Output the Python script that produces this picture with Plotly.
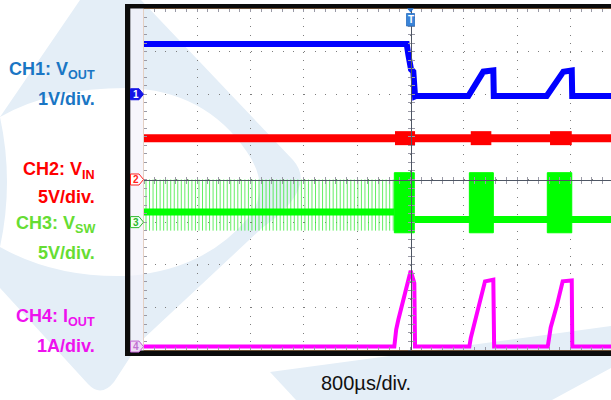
import plotly.graph_objects as go

# ---------------- values ----------------
TIME_DIV_US = 800
TIME_RANGE_US = [-4000, 3009]          # visible part of the 10-div screen
N_VDIV = 8

# CH1: VOUT, 1 V/div, ground 6 div above bottom
CH1_VDIV = 1.0
CH1_GND_DIV = 6.0
CH1_TIME_US = [-4000, -57, -33, 8, 42, 68, 83, 868, 1093, 1243, 1250, 2044, 2294, 2420, 2427, 3009]
CH1_VOUT_V = [1.18, 1.18, 0.93, 0.58, 0.53, -0.05, -0.04, -0.04, 0.53, 0.56, -0.04, -0.04, 0.53, 0.56, -0.04, -0.04]

# CH2: VIN, 5 V/div, ground at centre
CH2_VDIV = 5.0
CH2_GND_DIV = 4.0
CH2_TIME_US = [-4000, 3009]
CH2_VIN_V = [4.85, 4.85]
CH2_BURST_START_US = [-233, 904, 2094]
CH2_BURST_END_US = [68, 1213, 2420]

# CH3: VSW, 5 V/div, ground 3 div above bottom
CH3_VDIV = 5.0
CH3_GND_DIV = 3.0
CH3_BASE_TIME_US = [-4000, -243, None, 57, 3009]
CH3_BASE_V = [1.2, 1.2, None, 0.3, 0.3]
CH3_SPIKE_TIME_US = [
    -3970, -3917, -3864, -3811, -3758, -3705, -3652, -3599, -3546, -3493,
    -3440, -3387, -3334, -3281, -3228, -3175, -3122, -3069, -3016, -2963,
    -2910, -2857, -2804, -2751, -2698, -2645, -2592, -2539, -2486, -2433,
    -2380, -2327, -2274, -2221, -2168, -2115, -2062, -2009, -1956, -1903,
    -1850, -1797, -1744, -1691, -1638, -1585, -1532, -1479, -1426, -1373,
    -1320, -1267, -1214, -1161, -1108, -1055, -1002, -949, -896, -843,
    -790, -737, -684, -631, -578, -525, -472, -419, -366, -313, -260]
CH3_SPIKE_HIGH_V = 5.0
CH3_SPIKE_LOW_V = -1.0
CH3_BURST_START_US = [-243, 883, 2053]
CH3_BURST_END_US = [57, 1243, 2420]
CH3_BURST_HIGH_V = 5.8
CH3_BURST_LOW_V = -1.25

# CH4: IOUT, 1 A/div, ground just above bottom
CH4_ADIV = 1.0
CH4_GND_DIV = 0.08
CH4_TIME_US = [-4000, -243, -215, -183, 3, 27, 57, 68, 883, 904, 943, 1043, 1118, 1243, 1255,
               2060, 2080, 2104, 2194, 2284, 2420, 2428, 3009]
CH4_IOUT_A = [0, 0, 0.40, 0.63, 1.78, 1.61, 1.49, 0, 0, 0.20, 0.44, 1.10, 1.53, 1.57, 0,
              0, 0.20, 0.45, 0.95, 1.53, 1.55, 0, 0]

LABELS = [
    ("<b>CH1: V<sub>OUT</sub></b>", "#1a76c4"),
    ("<b>1V/div.</b>", "#1a76c4"),
    ("<b>CH2: V<sub>IN</sub></b>", "#ff0000"),
    ("<b>5V/div.</b>", "#ff0000"),
    ("<b>CH3: V<sub>SW</sub></b>", "#66dd33"),
    ("<b>5V/div.</b>", "#66dd33"),
    ("<b>CH4: I<sub>OUT</sub></b>", "#ee11ee"),
    ("<b>1A/div.</b>", "#ee11ee"),
]
TIMEBASE_LABEL = "800\u00b5s/div."

# ---------------- geometry / style ----------------
W, H = 611, 400
PL, PT, PB = 144, 9, 350
PW, PH = W - PL, PB - PT
LABEL_Y_PX = [71, 99, 170, 197, 224, 253, 317, 346]

C1, C2, C3, C4 = "#0000ff", "#ff0000", "#00ff00", "#ff00ff"
GRID = "#7d7d7d"
TICK = "#9a9aa6"
CENTER = "#4e5664"
EDGE = "#c8935f"
WM = "#e4eef7"


def px(x):
    return (x - PL) / PW


def py(y):
    return (PB - y) / PH


def pxpath(s):
    out, nums = [], []
    for tok in s.split():
        if tok.isalpha():
            out.append(tok)
        else:
            nums.append(float(tok))
            if len(nums) == 2:
                out.append(f"{px(nums[0]):.5f},{py(nums[1]):.5f}")
                nums = []
    return " ".join(out)


def rng(gnd_div, per_div):
    return [-gnd_div * per_div, (N_VDIV - gnd_div) * per_div]


x_lo, x_hi = TIME_RANGE_US
trig_frac = (0 - x_lo) / (x_hi - x_lo)
trig_px = PL + trig_frac * PW

fig = go.Figure()

# CH1
fig.add_trace(go.Scatter(x=CH1_TIME_US, y=CH1_VOUT_V, mode="lines",
                         line=dict(color=C1, width=6), xaxis="x", yaxis="y"))

# CH2
fig.add_trace(go.Scatter(x=CH2_TIME_US, y=CH2_VIN_V, mode="lines",
                         line=dict(color=C2, width=8), xaxis="x2", yaxis="y2"))
bx, by = [], []
for a, b in zip(CH2_BURST_START_US, CH2_BURST_END_US):
    bx += [a, b, None]
    by += [CH2_VIN_V[0], CH2_VIN_V[0], None]
fig.add_trace(go.Scatter(x=bx, y=by, mode="lines",
                         line=dict(color=C2, width=14), xaxis="x2", yaxis="y2"))

# CH3
sx, sy = [], []
for t in CH3_SPIKE_TIME_US:
    sx += [t, t, None]
    sy += [CH3_SPIKE_HIGH_V, CH3_SPIKE_LOW_V, None]
fig.add_trace(go.Scatter(x=sx, y=sy, mode="lines",
                         line=dict(color="rgba(50,232,50,0.75)", width=1),
                         xaxis="x3", yaxis="y3"))
fig.add_trace(go.Scatter(x=CH3_BASE_TIME_US, y=CH3_BASE_V, mode="lines",
                         line=dict(color=C3, width=7), xaxis="x3", yaxis="y3"))
gx, gy = [], []
for a, b in zip(CH3_BURST_START_US, CH3_BURST_END_US):
    gx += [a, b, b, a, a, None]
    gy += [CH3_BURST_HIGH_V, CH3_BURST_HIGH_V, CH3_BURST_LOW_V, CH3_BURST_LOW_V, CH3_BURST_HIGH_V, None]
fig.add_trace(go.Scatter(x=gx, y=gy, mode="lines", fill="toself", fillcolor=C3,
                         line=dict(color=C3, width=1), xaxis="x3", yaxis="y3"))

# CH4
fig.add_trace(go.Scatter(x=CH4_TIME_US, y=CH4_IOUT_A, mode="lines",
                         line=dict(color=C4, width=4), xaxis="x", yaxis="y4"))

common_x = dict(range=TIME_RANGE_US, tick0=x_lo, dtick=TIME_DIV_US, showticklabels=False,
                zeroline=False, ticklen=3, tickcolor=TICK, tickwidth=1)
minor_x = lambda side: dict(ticks=side, ticklen=3, dtick=TIME_DIV_US / 5, tickcolor=TICK,
                            tickwidth=1, showgrid=False)

shapes = [
    dict(type="path", xref="paper", yref="paper", layer="below",
         path=pxpath("M 80 0 L 141 0 L 293 160 Q 318 188 262 228 L 140 342 L 114 382 "
                     "Q 101 398 88 384 L 0 288 L 0 117 Z"),
         fillcolor=WM, line=dict(width=0)),
    dict(type="path", xref="paper", yref="paper", layer="below",
         path=pxpath("M 0 117 Q 50 88 127 88 Q 205 90 247 152 Q 272 188 248 218 "
                     "Q 205 270 127 276 Q 55 278 0 247 Q 14 182 0 117 Z"),
         fillcolor="white", line=dict(width=0)),
    dict(type="path", xref="paper", yref="paper", layer="below",
         path=pxpath("M 270 372 L 611 326 L 611 368 L 552 400 L 296 400 Z"),
         fillcolor=WM, line=dict(width=0)),
    # lavender strip left of screen
    dict(type="rect", xref="paper", yref="paper", layer="above",
         x0=px(130), x1=px(144), y0=py(351), y1=py(8),
         fillcolor="rgba(242,241,251,0.65)", line=dict(width=0)),
    # black bezel
    dict(type="rect", xref="paper", yref="paper", layer="above",
         x0=px(125), x1=px(611), y0=py(8.6), y1=py(4), fillcolor="#0b0b0b", line=dict(width=0)),
    dict(type="rect", xref="paper", yref="paper", layer="above",
         x0=px(125), x1=px(130.3), y0=py(356), y1=py(4), fillcolor="#0b0b0b", line=dict(width=0)),
    dict(type="rect", xref="paper", yref="paper", layer="above",
         x0=px(125), x1=px(611), y0=py(356), y1=py(350.4), fillcolor="#0b0b0b", line=dict(width=0)),
]

annotations = []
marker_style = [
    ("1", CH1_GND_DIV, "#1414e6", "#1414e6", "white"),
    ("2", CH2_GND_DIV, "white", "#ff2020", "#ff2020"),
    ("3", CH3_GND_DIV, "#f4fff4", "#2cb82c", "#2cb82c"),
    ("4", CH4_GND_DIV, "#efdcf5", "#c060d0", "#c070d0"),
]
for txt, gdiv, fill, edge, tcol in marker_style:
    cy = PB - gdiv * PH / N_VDIV
    shapes.append(dict(type="path", xref="paper", yref="paper", layer="above",
                       path=pxpath(f"M 130.5 {cy-5.5} L 139 {cy-5.5} L 143.5 {cy} L 139 {cy+5.5} L 130.5 {cy+5.5} Z"),
                       fillcolor=fill, line=dict(color=edge, width=1)))
    annotations.append(dict(x=px(135.5), y=py(cy), xref="paper", yref="paper", text=f"<b>{txt}</b>",
                            showarrow=False, font=dict(family="Liberation Sans", size=10, color=tcol),
                            xanchor="center", yanchor="middle"))

# trigger marker
shapes.append(dict(type="path", xref="paper", yref="paper", layer="above",
                   path=pxpath(f"M {trig_px-3.5} 8.3 L {trig_px+3.5} 8.3 L {trig_px} 12.5 Z"),
                   fillcolor="#2a78d6", line=dict(width=0)))
shapes.append(dict(type="rect", xref="paper", yref="paper", layer="above",
                   x0=px(trig_px - 4), x1=px(trig_px + 4), y0=py(26), y1=py(13.5),
                   fillcolor="#3a84d8", line=dict(color="#2a6fc0", width=0.8)))
annotations.append(dict(x=px(trig_px), y=py(19.8), xref="paper", yref="paper", text="<b>T</b>",
                        showarrow=False, font=dict(family="Liberation Sans", size=10, color="white"),
                        xanchor="center", yanchor="middle"))

for (txt, col), ly in zip(LABELS, LABEL_Y_PX):
    annotations.append(dict(x=px(97), y=py(ly), xref="paper", yref="paper", text=txt,
                            showarrow=False, xanchor="right", yanchor="middle",
                            font=dict(family="Liberation Sans", size=18, color=col)))
annotations.append(dict(x=px(366), y=py(383), xref="paper", yref="paper", text=TIMEBASE_LABEL,
                        showarrow=False, xanchor="center", yanchor="middle",
                        font=dict(family="Liberation Sans", size=20, color="#111111")))

fig.update_layout(
    width=W, height=H,
    margin=dict(l=PL, r=0, t=PT, b=H - PB, pad=0),
    paper_bgcolor="white", plot_bgcolor="rgba(0,0,0,0)",
    showlegend=False,
    xaxis=dict(**common_x, anchor="y", showgrid=True, gridcolor=GRID, gridwidth=1,
               griddash="1px,7.525px", ticks="inside", mirror="ticks",
               showline=True, linecolor=EDGE, linewidth=1, minor=minor_x("inside")),
    xaxis2=dict(**common_x, overlaying="x", anchor="free", position=0.5, showgrid=False,
                ticks="inside", showline=True, linecolor=CENTER, linewidth=1, minor=minor_x("inside")),
    xaxis3=dict(**common_x, overlaying="x", anchor="free", position=0.5, showgrid=False,
                ticks="outside", showline=False, minor=minor_x("outside")),
    yaxis=dict(range=rng(CH1_GND_DIV, CH1_VDIV), dtick=CH1_VDIV, tick0=0, anchor="x",
               showgrid=True, gridcolor=GRID, gridwidth=1, griddash="1px,9.66px",
               showline=True, linecolor=EDGE, linewidth=1, zeroline=False, showticklabels=False,
               ticks="inside", ticklen=3, tickcolor=TICK,
               minor=dict(ticks="inside", ticklen=3, dtick=CH1_VDIV / 5, tickcolor=TICK, showgrid=False)),
    yaxis2=dict(range=rng(CH2_GND_DIV, CH2_VDIV), dtick=CH2_VDIV, tick0=0, overlaying="y",
                anchor="free", position=trig_frac, showgrid=False, zeroline=False,
                showticklabels=False, showline=True, linecolor=CENTER, linewidth=1,
                ticks="outside", ticklen=3, tickcolor=TICK,
                minor=dict(ticks="outside", ticklen=3, dtick=CH2_VDIV / 5, tickcolor=TICK, showgrid=False)),
    yaxis3=dict(range=rng(CH3_GND_DIV, CH3_VDIV), dtick=CH3_VDIV, tick0=0, overlaying="y",
                anchor="free", position=trig_frac, showgrid=False, zeroline=False,
                showticklabels=False, showline=False,
                ticks="inside", ticklen=3, tickcolor=TICK,
                minor=dict(ticks="inside", ticklen=3, dtick=CH3_VDIV / 5, tickcolor=TICK, showgrid=False)),
    yaxis4=dict(range=rng(CH4_GND_DIV, CH4_ADIV), overlaying="y", visible=False),
    shapes=shapes,
    annotations=annotations,
)

fig.write_html("out.html", config={"displayModeBar": False},
               post_script="document.body.style.margin='0';")
